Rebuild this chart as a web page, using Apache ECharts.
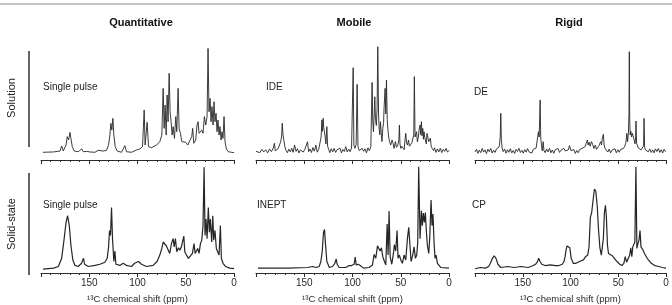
<!DOCTYPE html>
<html>
<head>
<meta charset="utf-8">
<script src="https://cdn.jsdelivr.net/npm/echarts@6/dist/echarts.min.js"></script>
<style>
  html, body { margin: 0; padding: 0; background: #fff; }
  #chart { width: 672px; height: 305px; }
</style>
</head>
<body>
<div id="chart"></div>
<script>
const columnTitles = ['Quantitative', 'Mobile', 'Rigid']
const rowTitles = ['Solution', 'Solid-state']
const experimentNames = ['Single pulse', 'IDE', 'DE', 'Single pulse', 'INEPT', 'CP']
const shiftAxisName = '¹³C chemical shift (ppm)'

// [ppm, intensity]
const quantSolution = [
  [198,6.7],[187,7],[180.3,7.8],[178.6,12.2],[176.9,7.8],[174.1,13],[172.8,20.3],[171.4,17.4],[170,24],[169,18.8],
  [167.6,11.6],[165.5,7.8],[161.4,7.2],[157.9,9.6],[156.2,7.2],[152.8,7.5],[149.3,7],[144.1,6.7],[140.7,8.4],[139,7.2],
  [135.5,7.8],[132.1,8.4],[130,13],[128.6,21.7],[127.6,31.9],[126.6,26],[125.5,36.2],[124.5,21.7],[123.1,11.6],[121,7.8],
  [116.6,6.7],[113.1,12.5],[111.4,7.2],[106.2,6.7],[101,8.7],[97.6,9.6],[94.8,11.6],[93.1,43.5],[92.1,13],[90,32.8],
  [88.6,11.6],[85.5,10.7],[80.3,13],[76.9,16],[74.8,21.7],[73.4,62.3],[72.4,27.5],[71.4,47.8],[70.3,21.7],[69.3,56.5],
  [68.3,33.3],[67.2,75.4],[66.2,42],[65.2,33.3],[64.1,21.7],[63.1,29],[61.7,18.8],[60.3,37.7],[59.3,24.6],[57.9,62.3],
  [56.9,27.5],[55.5,23.2],[54.1,16],[52.1,14.5],[50,15.4],[47.9,13],[45.9,12.5],[43.8,20.3],[42.8,27.5],[41.7,14.5],
  [39.7,17.4],[38.3,30.4],[37.2,33.3],[36.2,23.2],[34.8,21.7],[33.4,26],[32.1,23.2],[30.7,37.7],[29.3,30.4],[27.9,37.7],
  [26.9,97],[25.9,42],[24.8,53.6],[23.8,33.3],[22.8,46.4],[21.7,30.4],[20.7,50.7],[19.7,33.3],[18.6,40.6],[17.6,24.6],
  [16.6,34.8],[15.5,21.7],[14.5,29],[13.4,17.4],[12.4,24.6],[11.4,18.8],[10.3,37.7],[9.3,16],[7.9,9.6],[5.9,7.2],
  [2.8,6.7],[0,6.4]
]

const mobileSolution = [
  [200,7.5],[198,8.8],[196,6.4],[194,9.2],[192,7],[190,8.9],[188,6.2],[186,9.6],[184,7.3],[182,10.5],
  [181,14.5],[180,8],[178.5,6.8],[177,9.9],[175.5,11.5],[174.5,15.8],[173.5,20],[172.8,32],[172,22],[171.2,17.5],
  [170.2,12],[169,8.5],[167.5,6.3],[166,9.4],[164.5,7.2],[163,10.2],[161.5,6.7],[160,13],[158.5,7.5],[157,9.8],
  [155.5,6.1],[154,8.7],[152.5,10.4],[151,6.9],[149.5,9.1],[148,7.4],[146.6,15.9],[145.5,7.2],[144,9.6],[142.5,6.5],
  [141,10.8],[139.5,7.7],[138,13],[136.5,6.8],[135,9.3],[133.5,8.4],[132.5,20],[131.7,34.8],[131.2,25],[130.4,36.3],
  [129.8,28],[128.6,21.7],[127.5,14],[126.6,29],[125.8,12],[124.8,9.5],[123.5,6.4],[122,9.8],[120.5,7.1],[119,10.1],
  [117.5,6.6],[116,8.9],[114.5,7.8],[113,10.3],[111.5,6.2],[110,9.2],[108.5,7.4],[107,11.6],[105.5,6.9],[104,9.5],
  [102.5,7.2],[101,10.4],[100,12],[99.3,80.3],[98.6,13],[97.5,10.1],[96.2,13.4],[95.2,65.8],[94.3,11.6],[93,8.2],
  [91.5,6.5],[90,10.2],[88.5,7.6],[87,9.7],[85.5,6.3],[84,10.6],[82.5,8.1],[81,11.6],[79.7,67.5],[79,34],
  [78.3,24.6],[77.5,40],[76.9,55],[76.2,36.2],[75.3,30],[74.5,45],[73.8,98.5],[73,40],[72.4,27.5],[71.7,22],
  [71,33.3],[70.3,24],[69.5,16],[68.6,27.5],[67.8,32],[67.3,45],[66.2,62.3],[65.5,40],[64.8,69.6],[64,35],
  [63.4,27.5],[62.5,20],[61.6,16],[60.4,13],[59,17.4],[57.9,14.5],[57,10.1],[55.5,16],[54.5,11],[53,13],
  [51.9,18],[51.4,30.4],[50.8,14],[50,10.1],[49,12],[47.6,13],[46.5,9],[45.5,18],[44.8,23.2],[44,15],
  [43,13],[42,17.4],[41,12],[39.5,11.6],[38.5,15],[37.4,14.5],[36.5,22],[35.9,72.5],[35.2,20],[34.5,18.8],
  [33.6,24.6],[32.8,15.9],[31.8,20],[30.9,27],[30,30.4],[29.3,22],[28.6,33.3],[27.9,21],[27.2,27.5],[26.5,18],
  [25.9,24.6],[25.2,20],[24.5,18.8],[23.5,14],[22.8,23.2],[21.7,23.2],[21,16],[20.3,15.9],[19.3,19],[18.5,12],
  [17.5,10.1],[16,8.2],[15,10.6],[13.5,6.6],[12,9.6],[10.5,7.1],[9,10.2],[7.5,6.4],[6,9.3],[4.5,7.5],
  [3,10.1],[1.5,6.8],[0,8.4]
]

const rigidSolution = [
  [200,7.1],[198.5,9.3],[197,5.8],[195.5,8.6],[194,6.4],[192.5,10.1],[191,6.9],[189.5,8.8],[188,5.6],[186.5,9.4],
  [185,7.2],[183.5,10],[182,6.1],[180.5,8.5],[179,6.6],[177.5,9.7],[176,8.3],[175,11],[174.4,13],[173.6,20],
  [173,40.6],[172.4,18],[171.6,10.5],[170.5,7.3],[169,9.5],[167.5,5.9],[166,8.9],[164.5,6.7],[163,9.8],[161.5,6.2],
  [160,8.3],[158.5,5.7],[157,9.2],[155.5,7.4],[154,10.2],[152.5,6.5],[151,8.4],[149.5,5.9],[148,9],[146.5,6.8],
  [145,9.9],[143.5,7.1],[142,8.6],[140.5,6],[139,9.3],[137.5,7.7],[136,10.4],[134.6,12],[133.6,24.6],[132.8,20],
  [131.8,52.2],[131.2,20],[130.4,13],[129.6,8],[128.6,15.9],[127.8,8.2],[126.5,6.4],[125,9.6],[123.5,7],[122,10.1],
  [120.5,6.3],[119,8.7],[117.5,5.8],[116,9.1],[114.5,7.5],[113,9.9],[111.5,6.6],[110,8.4],[108.5,7],[107,10.2],
  [105.5,7.8],[104,9.4],[102.5,8.7],[101,12.5],[99.5,8.1],[98,6.4],[96.5,9.1],[95,5.7],[93.5,8.2],[92,6.3],
  [90.5,9],[89,7.4],[87.5,10.3],[86,9.1],[84.8,11.6],[83.6,14.5],[82.3,17.4],[81.5,13],[80.5,15.5],[79.4,12],
  [78,16],[76.8,13.5],[75.5,10],[74,13],[72.8,9.2],[71.5,10.8],[70.2,12.5],[69.2,14],[68.4,16],[67.5,13],
  [66.6,19],[65.6,22.3],[64.8,13],[63.8,10.1],[62.5,8.4],[61,6.9],[59.5,9.5],[58,6.2],[56.5,8.6],[55,7.1],
  [53.5,9.8],[52,6.3],[50.5,8.9],[49,6.7],[47.5,9.2],[46,7.6],[44.5,10.1],[43.2,12],[42,15],[41,23.2],
  [40.2,16],[39.3,24],[38.8,40],[38.4,94.2],[38,35],[37.5,21.7],[36.8,25],[36,20],[35.2,23.2],[34.2,23.2],
  [33.2,17],[32.4,14],[31.8,20],[31.4,33.9],[30.8,14.5],[30,13],[29,10.5],[27.5,10.1],[26,8.8],[24.5,10.5],
  [23.5,12.3],[23,36.2],[22.4,11],[21.5,8.7],[20,10.4],[18.5,7.1],[17,9.6],[15.5,6.5],[14,8.8],[12.5,6.2],
  [11,9.7],[9.5,7.4],[8,10],[6.5,6.6],[5,8.9],[3.5,6.1],[2,9.3],[0.5,7.2]
]

const quantSolid = [
  [198,3.6],[187,4.5],[182,6],[178.6,13.6],[176,31.8],[174,47],[172.4,53],[170.7,44],[169,25.7],[167,12],
  [164.8,7],[161.4,6],[158,9],[156,13.6],[154.8,8.1],[151,6],[144,7],[139,8.1],[133.8,10],[131.4,13.6],
  [130,24],[129,39.4],[128,34.8],[126.9,60.6],[125.9,31.8],[124.5,10.6],[123.4,20.3],[122.4,8.1],[118.3,7],[114.8,9],
  [111.4,7],[106.2,6],[103,9],[101,8.1],[99,10.6],[95.9,8.1],[90.7,6],[83.8,7],[79.7,10.6],[76.9,16.6],
  [74.8,22.7],[73.4,28.7],[71.7,29.3],[70,25],[68.3,24.2],[66.6,18.1],[64.8,27.2],[63.1,31.8],[62,24.2],[60.7,31.8],
  [59.3,19.7],[57.6,23.3],[56.2,21.2],[54.5,24.2],[53.1,23.3],[52,34.2],[51,19.7],[49.3,16.6],[47.2,13.6],[45.2,14.2],
  [43.1,18.1],[41.4,27.2],[40.3,18.1],[39,18.1],[37.6,22.7],[36.2,18.1],[34.8,27.2],[33.4,30.3],[32.1,43.9],[31,97.8],
  [30,34.8],[29,50],[27.9,31.8],[26.6,60.6],[25.5,37.8],[24.5,50],[23.1,28.7],[22,53],[21,30.3],[19.7,39.4],
  [18.3,22.7],[16.9,24.2],[15.5,16.6],[14.1,43.9],[13.1,13.6],[11.4,9],[8.6,6],[4.5,4.5],[0,4]
]

const mobileSolid = [
  [198,4.5],[167,4.5],[146.6,5.1],[141.4,6],[138,5.1],[134.5,6],[132.8,10.6],[131.4,19.7],[130,37.8],[129,40.3],
  [128,27.2],[126.6,10.6],[124,5.1],[120.7,6],[118.3,9],[116.9,13],[115.9,8.1],[113.8,5.1],[107,5.1],[103.4,6.9],
  [101,6.9],[98.3,8.1],[97.2,14.8],[96.2,7.5],[94.1,8.1],[92,6.9],[88.6,4.5],[82.8,5.1],[79.3,7.5],[77.6,17.2],
  [75.9,13.6],[74.1,25.1],[72.8,26.3],[71.4,20.3],[70,23.3],[68.6,15.1],[66.9,10.6],[65.5,7.5],[64.1,45.4],[63.1,16.6],
  [62.1,57.5],[61,15.1],[59.3,8.1],[57.6,18.1],[56.6,26.3],[55.2,20.3],[53.8,39.4],[52.8,13.6],[51.4,16.6],[50,12.1],
  [48.3,9],[46.6,16.6],[44.8,12.1],[43.1,31.8],[41.7,42.4],[40.7,28.7],[39.3,10.6],[37.6,16.6],[36.2,24.2],[34.8,13.6],
  [33.4,16.6],[32.4,28.7],[31.4,98.4],[30,31.8],[28.6,57.5],[27.6,43.9],[26.6,55.4],[25.5,46.9],[24.5,56],[23.4,37.8],
  [22.4,25.7],[21,18.1],[20,31.8],[18.6,67.5],[17.6,43.9],[16.6,54.5],[15.5,28.7],[14.5,13.6],[13.4,16.6],[12,9],
  [8.6,5.1],[0,4.5]
]

const rigidSolid = [
  [200,3.9],[194.6,5.1],[189,4.5],[185.7,6],[183.9,9],[181.7,13.6],[179.9,16],[178,13.6],[176,8.1],[173,5.1],
  [166,6],[158.8,5.1],[151.6,6],[144.4,5.1],[139,6.9],[136.6,8.1],[134.8,10],[133.3,13.6],[131.9,10.6],[130.1,8.1],
  [126.5,6.9],[121,7.5],[115.8,6.9],[112.2,6.9],[108.6,8.1],[106.8,10.6],[105.7,15.1],[104.7,21.2],[103.6,25.1],[102,26.3],
  [100.7,23.3],[99.3,13.6],[97.1,9],[94.3,9],[90.7,10.6],[86.4,12.1],[84.2,15.1],[82,16.6],[80.6,24.2],[79.2,51.5],
  [77.8,56],[76.3,68.1],[74.9,77.8],[73.5,75.7],[72,62],[70.6,39.4],[69.2,23.3],[67.7,16.6],[66.7,15.1],[65.6,31.8],
  [64.5,56],[63.4,62.7],[62.4,51.5],[61.3,25.7],[60.2,18.1],[58.4,16.6],[56.3,16],[54.1,13.6],[51.3,10.6],[48.4,8.1],
  [46.2,6.9],[44.1,9],[42.7,15.1],[41.2,10],[39.4,10],[38,16.6],[36.9,23.3],[35.8,15.1],[34.8,24.2],[33.7,22.7],
  [32.6,28.7],[31.5,98.4],[30.5,22.7],[29.4,27.2],[28.3,30.3],[27.2,39.4],[26.2,24.2],[25.1,25.1],[24,21.2],[22.6,18.1],
  [21.1,16.6],[19.7,13.6],[17.9,12],[15.4,9],[11.8,6.9],[7.5,6],[3.9,5.1],[0,4.5]
]

const spectra = [quantSolution, mobileSolution, rigidSolution, quantSolid, mobileSolid, rigidSolid]

const FONT = '"Liberation Sans", Arial, sans-serif'
const INK = '#2a2a2a'

// pixel boxes of the six panels
const panelLeft = [41, 256, 475]
const panelWidth = [193, 193, 191]
const rowTop = [45, 165]
const rowHeight = [115, 110]
const rowLineWidth = [0.9, 1.2]

function buildOption() {
  const grid = [], xAxis = [], yAxis = [], series = []
  spectra.forEach((data, i) => {
    const row = Math.floor(i / 3)
    const col = i % 3
    const bottomRow = row === 1
    grid.push({ left: panelLeft[col], width: panelWidth[col], top: rowTop[row], height: rowHeight[row] })
    xAxis.push({
      gridIndex: i,
      type: 'value',
      min: 0,
      max: 200,
      interval: 50,
      inverse: true,
      axisLine: { lineStyle: { color: INK, width: 1 } },
      axisTick: { length: 4, lineStyle: { color: INK } },
      minorTick: { show: true, splitNumber: 5, length: 2, lineStyle: { color: INK } },
      splitLine: { show: false },
      minorSplitLine: { show: false },
      axisLabel: {
        show: bottomRow,
        margin: 5,
        color: INK,
        fontSize: 10,
        fontFamily: FONT,
        formatter: (v) => (v === 200 ? '' : v),
      },
      name: bottomRow ? shiftAxisName : '',
      nameLocation: 'middle',
      nameGap: 21,
      nameTextStyle: { color: INK, fontSize: 9.5, fontFamily: FONT },
    })
    yAxis.push({ gridIndex: i, type: 'value', min: 0, max: 100, show: false })
    series.push({
      type: 'line',
      xAxisIndex: i,
      yAxisIndex: i,
      data,
      showSymbol: false,
      clip: false,
      lineStyle: { color: '#262626', width: rowLineWidth[row] },
    })
  })

  const graphic = [
    { type: 'line', shape: { x1: 0, y1: 4, x2: 672, y2: 4 }, style: { stroke: '#8a8a8a', lineWidth: 1.2 } },
    { type: 'line', shape: { x1: 29, y1: 51, x2: 29, y2: 147 }, style: { stroke: '#333', lineWidth: 1.5 } },
    { type: 'line', shape: { x1: 29, y1: 173, x2: 29, y2: 275 }, style: { stroke: '#333', lineWidth: 1.5 } },
  ]
  const titleX = [141, 354, 569]
  columnTitles.forEach((t, c) => {
    graphic.push({
      type: 'text', x: titleX[c], y: 23,
      style: { text: t, font: 'bold 11px ' + FONT, fill: '#111', align: 'center', verticalAlign: 'middle' },
    })
  })
  const rowY = [98, 224]
  rowTitles.forEach((t, r) => {
    graphic.push({
      type: 'text', x: 12, y: rowY[r], rotation: Math.PI / 2,
      style: { text: t, font: '11px ' + FONT, fill: '#222', align: 'center', verticalAlign: 'middle' },
    })
  })
  const nameX = [43, 266, 474, 43, 257, 472]
  const nameY = [87, 87, 92, 205, 205, 205]
  experimentNames.forEach((t, i) => {
    graphic.push({
      type: 'text', x: nameX[i], y: nameY[i],
      style: { text: t, font: '10px ' + FONT, fill: '#222', align: 'left', verticalAlign: 'middle' },
    })
  })

  return { animation: false, backgroundColor: '#fff', grid, xAxis, yAxis, series, graphic }
}

const chart = echarts.init(document.getElementById('chart'))
chart.setOption(buildOption())
</script>
</body>
</html>
